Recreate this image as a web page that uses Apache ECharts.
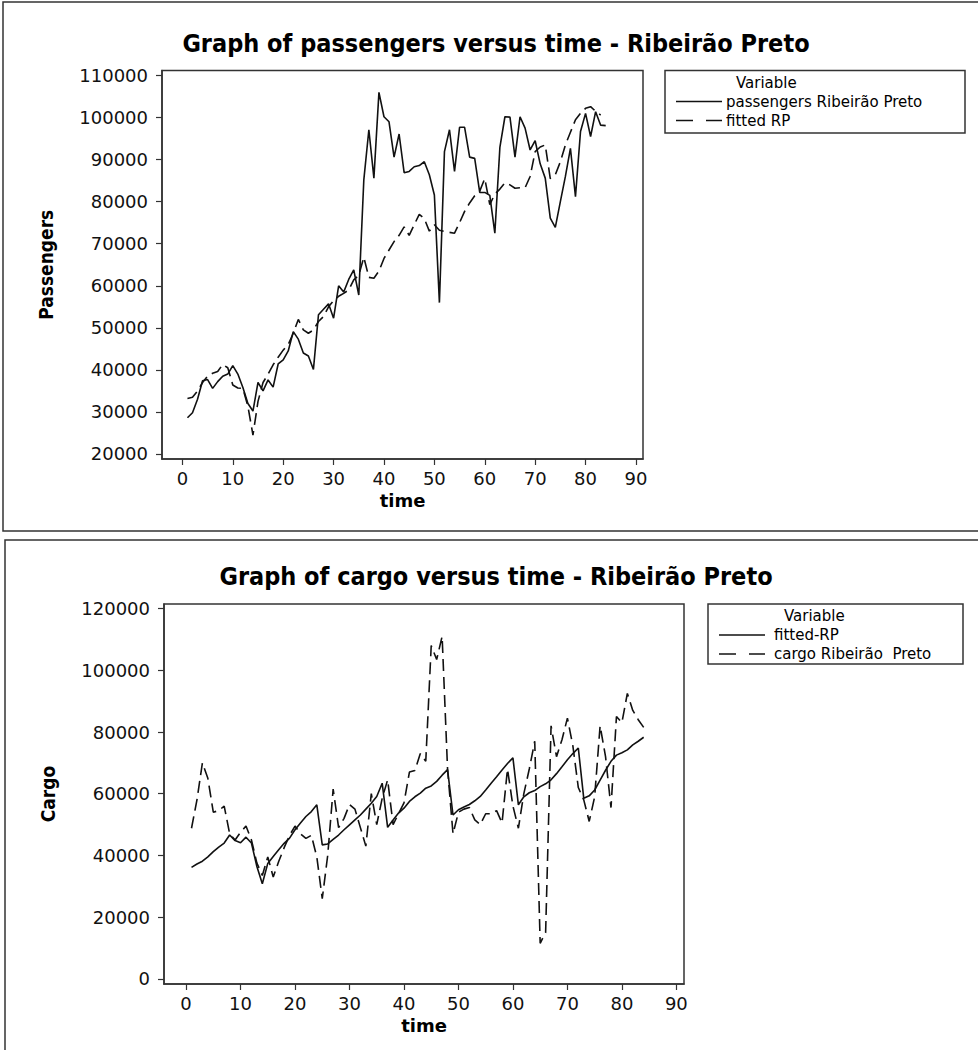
<!DOCTYPE html>
<html>
<head>
<meta charset="utf-8">
<title>Ribeirão Preto – passengers and cargo versus time</title>
<script src="https://cdn.jsdelivr.net/npm/echarts@6/dist/echarts.min.js"></script>
<style>
  html, body { margin: 0; padding: 0; background: #fff; }
  #chart { width: 978px; height: 1050px; }
</style>
</head>
<body>
<div id="chart"></div>
<script>
// Time index (months)
const time = [1,2,3,4,5,6,7,8,9,10,11,12,13,14,15,16,17,18,19,20,21,22,23,24,25,26,27,28,29,30,
  31,32,33,34,35,36,37,38,39,40,41,42,43,44,45,46,47,48,49,50,51,52,53,54,55,56,57,58,59,60,
  61,62,63,64,65,66,67,68,69,70,71,72,73,74,75,76,77,78,79,80,81,82,83,84];

// Passengers, Ribeirão Preto (observed)
const passengersRP = [28600,29800,33000,37400,37700,35600,37200,38500,39000,41000,
  39000,35800,32000,30200,37000,35000,37600,35900,41400,42400,
  44500,49100,47300,44000,43300,40100,53100,54400,55700,52300,
  60000,58500,61500,63800,57800,85200,97100,85600,106000,100200,
  99000,90600,96100,86900,87200,88300,88600,89500,86400,81600,
  56000,91900,97100,87200,97700,97700,90600,90300,82200,82200,
  81500,72500,92900,100200,100100,90600,100200,97500,92300,94500,
  89000,85600,76100,73900,80000,86000,92700,81200,96700,101000,
  95500,101400,98200,98100];

// Fitted model for passengers (RP)
const fittedRP = [33200,33500,35000,37000,38500,39200,39600,41300,40500,36400,
  35700,35600,31300,24500,32500,37000,39000,41200,43000,44700,
  46000,48700,52000,49500,48700,49500,51500,52700,55000,56500,
  57500,58200,59000,61400,62500,66800,62000,61800,63500,66500,
  68500,70500,72000,74000,72000,74500,77000,76000,73000,74500,
  73200,72900,72700,72500,75000,77700,79700,81400,82500,85500,
  79300,81800,83000,84500,84000,83200,83300,83300,86000,91900,
  93000,93500,85500,86400,89500,93500,96500,99500,101000,102200,
  102600,101500,100600];

// Fitted model for cargo (RP)
const fittedCargoRP = [36100,37200,38100,39500,41200,42700,44000,46600,44800,44100,
  45900,44000,36400,30800,37400,39600,41800,43900,45600,48300,
  50500,52600,54200,56400,43400,43700,45200,46600,48300,49900,
  51500,53100,55000,56900,59100,63400,49100,51500,53700,55300,
  57500,59000,60200,61800,62500,64000,66000,67800,53100,54800,
  55700,56500,57700,59100,61200,63400,65500,67700,69800,71600,
  56400,59000,60300,61000,62300,63200,64500,66500,68700,71000,
  73000,74800,58500,59300,61200,64400,67600,70500,72500,73300,
  74200,75800,77000,78300];

// Cargo, Ribeirão Preto (observed)
const cargoRP = [48800,58000,70000,65000,54000,54500,56000,47000,45000,47500,
  49500,45000,37500,33500,39500,33000,38000,42500,46500,49500,
  47000,45500,46500,39500,26000,40000,61500,49000,52000,56500,
  55000,49000,43000,60000,50000,58500,64500,50000,53500,57000,
  67000,67500,73000,70500,108000,103500,111000,68000,47000,54000,
  55000,55500,51500,50000,53500,53500,54500,50500,68000,56000,
  48800,60000,68000,77000,11500,15000,82000,72000,77500,84500,
  75500,62000,58000,51000,59000,82000,72000,55500,85000,83000,
  92500,87000,84000,81500];

// Axis tick labels
const timeTicks = [0,10,20,30,40,50,60,70,80,90];
const passengerTicks = [20000,30000,40000,50000,60000,70000,80000,90000,100000,110000];
const cargoTicks = [0,20000,40000,60000,80000,100000,120000];

const pairs = (values) => values.map((v, i) => [time[i], v]);

const INK = '#111';
const FRAME = '#333';
const LABEL_FONT = "'DejaVu Sans', Verdana, sans-serif";
const HEAD_FONT = "'DejaVu Sans Condensed', 'Liberation Sans Narrow', 'DejaVu Sans', sans-serif";

function xAxisFor(gridIndex) {
  return {
    type: 'value', gridIndex,
    min: -4.05, max: 91.4,
    name: 'time', nameLocation: 'middle', nameGap: 32,
    nameTextStyle: { fontFamily: LABEL_FONT, fontWeight: 'bold', fontSize: 18, color: '#000' },
    axisLine: { show: true, onZero: false, lineStyle: { color: FRAME, width: 1.5 } },
    axisTick: { show: true, customValues: timeTicks, length: 6, lineStyle: { color: FRAME, width: 1.2 } },
    axisLabel: { customValues: timeTicks, margin: 10, fontFamily: LABEL_FONT, fontSize: 18, color: '#111',
                 formatter: (v) => String(v) },
    splitLine: { show: false }
  };
}

function yAxisFor(gridIndex, name, min, max, ticks) {
  return {
    type: 'value', gridIndex, min, max,
    name, nameLocation: 'middle', nameRotate: 90, nameGap: 107,
    nameTextStyle: { fontFamily: HEAD_FONT, fontWeight: 'bold', fontSize: 19, color: '#000' },
    axisLine: { show: true, onZero: false, lineStyle: { color: FRAME, width: 1.5 } },
    axisTick: { show: true, customValues: ticks, length: 6, lineStyle: { color: FRAME, width: 1.2 } },
    axisLabel: { customValues: ticks, margin: 14, fontFamily: LABEL_FONT, fontSize: 18, color: '#111',
                 formatter: (v) => String(v) },
    splitLine: { show: false }
  };
}

function lineSeries(name, values, axisIndex, dashed) {
  return {
    type: 'line', name,
    xAxisIndex: axisIndex, yAxisIndex: axisIndex,
    data: pairs(values),
    symbol: 'none', smooth: false, animation: false,
    lineStyle: { color: INK, width: 1.6, type: dashed ? [12, 6] : 'solid' },
    z: dashed ? 3 : 4
  };
}

// Minitab-style legend box: header plus two line samples
function legendBox(x, y, w, h, textX, rows) {
  const children = [
    { type: 'rect', shape: { x, y, width: w, height: h },
      style: { fill: '#fff', stroke: FRAME, lineWidth: 1.5 } },
    { type: 'text', x: textX + 10, y: y + 12,
      style: { text: 'Variable', font: "15px 'DejaVu Sans', Verdana, sans-serif", fill: '#000', verticalAlign: 'middle' } }
  ];
  rows.forEach((r, i) => {
    const ly = y + 31 + i * 19;
    if (r.dashed) {
      children.push({ type: 'line', shape: { x1: x + 11, y1: ly, x2: x + 28, y2: ly }, style: { stroke: INK, lineWidth: 1.5 } });
      children.push({ type: 'line', shape: { x1: x + 41, y1: ly, x2: x + 57, y2: ly }, style: { stroke: INK, lineWidth: 1.5 } });
    } else {
      children.push({ type: 'line', shape: { x1: x + 11, y1: ly, x2: x + 57, y2: ly }, style: { stroke: INK, lineWidth: 1.5 } });
    }
    children.push({ type: 'text', x: textX, y: ly,
      style: { text: r.label, font: "15px 'DejaVu Sans', Verdana, sans-serif", fill: '#000', verticalAlign: 'middle' } });
  });
  return { type: 'group', children };
}

const chart = echarts.init(document.getElementById('chart'), null, { renderer: 'svg' });

chart.setOption({
  backgroundColor: '#fff',
  animation: false,
  title: [
    { text: 'Graph of passengers versus time - Ribeirão Preto', left: 496, top: 31, textAlign: 'center', padding: 0,
      textStyle: { fontFamily: HEAD_FONT, fontWeight: 'bold', fontSize: 25, color: '#000' } },
    { text: 'Graph of cargo versus time - Ribeirão Preto', left: 496, top: 564, textAlign: 'center', padding: 0,
      textStyle: { fontFamily: HEAD_FONT, fontWeight: 'bold', fontSize: 25, color: '#000' } }
  ],
  grid: [
    { left: 162, top: 70.5, width: 481, height: 388.5, show: true, borderColor: FRAME, borderWidth: 1.5, backgroundColor: 'transparent' },
    { left: 164, top: 604, width: 520, height: 380, show: true, borderColor: FRAME, borderWidth: 1.5, backgroundColor: 'transparent' }
  ],
  xAxis: [xAxisFor(0), xAxisFor(1)],
  yAxis: [
    yAxisFor(0, 'Passengers', 18800, 111200, passengerTicks),
    yAxisFor(1, 'Cargo', -1700, 121500, cargoTicks)
  ],
  series: [
    lineSeries('passengers Ribeirão Preto', passengersRP, 0, false),
    lineSeries('fitted RP', fittedRP, 0, true),
    lineSeries('fitted-RP', fittedCargoRP, 1, false),
    lineSeries('cargo Ribeirão  Preto', cargoRP, 1, true)
  ],
  graphic: [
    // panel frames
    { type: 'rect', z: -10, shape: { x: 3, y: 2, width: 1000, height: 529 },
      style: { fill: 'none', stroke: FRAME, lineWidth: 1.5 } },
    { type: 'rect', z: -10, shape: { x: 5, y: 540, width: 1000, height: 520 },
      style: { fill: 'none', stroke: FRAME, lineWidth: 1.5 } },
    legendBox(665, 70.5, 300, 62.5, 726, [
      { label: 'passengers Ribeirão Preto', dashed: false },
      { label: 'fitted RP', dashed: true }
    ]),
    legendBox(708, 604, 255, 60, 774, [
      { label: 'fitted-RP', dashed: false },
      { label: 'cargo Ribeirão  Preto', dashed: true }
    ])
  ]
});
</script>
</body>
</html>
